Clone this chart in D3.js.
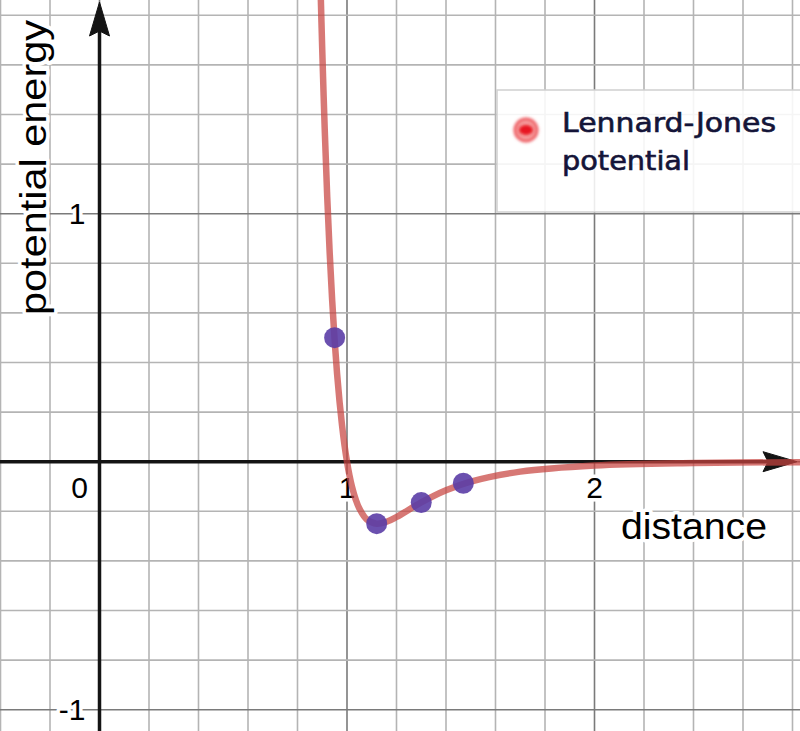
<!DOCTYPE html>
<html>
<head>
<meta charset="utf-8">
<script src="https://cdn.jsdelivr.net/npm/d3@7"></script>
<style>
  html, body { margin: 0; padding: 0; background: #fff; }
  svg { display: block; }
</style>
</head>
<body>
<svg id="chart" width="800" height="731"></svg>
<script>
// ---- data ----
const curveDistance = [0.89, 0.895, 0.90, 0.91, 0.92, 0.93, 0.94, 0.95, 0.96, 0.97, 0.98, 0.99, 1.00, 1.01, 1.02, 1.035, 1.05, 1.08, 1.12, 1.16, 1.20, 1.30, 1.40, 1.50, 1.70, 2.00, 2.40, 2.83];
const curveEnergy   = [2.04, 1.84, 1.66, 1.34, 1.07, 0.843, 0.652, 0.490, 0.354, 0.241, 0.146, 0.066, 0.0, -0.055, -0.100, -0.152, -0.189, -0.233, -0.250, -0.242, -0.223, -0.164, -0.115, -0.080, -0.040, -0.015, -0.005, -0.002];
const pointDistance = [0.95, 1.12, 1.30, 1.47];
const pointEnergy   = [0.50, -0.25, -0.165, -0.087];
const xTickValues = [0, 1, 2];
const xTickLabels = ["0", "1", "2"];
const yTickValues = [1, -1];
const yTickLabels = ["1", "-1"];
const xTitle = "distance";
const yTitle = "potential energy";
const legendLines = ["Lennard-Jones", "potential"];

// ---- layout ----
const W = 800, H = 731;
const x0px = 99.5, xUnit = 247.5;
const y0px = 461.7, yUnit = 248;
const x = d3.scaleLinear().domain([-x0px / xUnit, (W - x0px) / xUnit]).range([0, W]);
const y = d3.scaleLinear().domain([-(H - y0px) / yUnit, y0px / yUnit]).range([H, 0]);

const svg = d3.select("#chart");
const defs = svg.append("defs");
defs.append("clipPath").attr("id", "clip").append("rect").attr("x", 0).attr("y", 0).attr("width", W).attr("height", H);
const blur = defs.append("filter").attr("id", "blur").attr("x", "-50%").attr("y", "-50%").attr("width", "200%").attr("height", "200%");
blur.append("feGaussianBlur").attr("stdDeviation", 1.6);

// ---- grid ----
const step = 0.2;
const gx = d3.range(Math.ceil(x.domain()[0] / step), Math.floor(x.domain()[1] / step) + 1).map(k => +(k * step).toFixed(2));
const gy = d3.range(Math.ceil(y.domain()[0] / step), Math.floor(y.domain()[1] / step) + 1).map(k => +(k * step).toFixed(2));
const isMajor = v => Math.abs(v - Math.round(v)) < 1e-6;
const grid = svg.append("g");
grid.selectAll(".gx").data(gx).join("line")
  .attr("x1", d => x(d)).attr("x2", d => x(d)).attr("y1", 0).attr("y2", H)
  .attr("stroke", d => isMajor(d) ? "#7a7a7a" : "#b4b4b4").attr("stroke-width", 1.6);
grid.selectAll(".gy").data(gy).join("line")
  .attr("y1", d => y(d)).attr("y2", d => y(d)).attr("x1", 0).attr("x2", W)
  .attr("stroke", d => isMajor(d) ? "#7a7a7a" : "#b4b4b4").attr("stroke-width", 1.6);

// ---- tick labels (with white halo) ----
const haloText = sel => sel.attr("paint-order", "stroke").attr("stroke", "#fff").attr("stroke-width", 7).attr("stroke-linejoin", "round");
const labelFont = "'Liberation Sans', Arial, sans-serif";
svg.append("g").selectAll("text").data(xTickValues).join("text")
  .attr("x", (d, i) => d === 0 ? x(d) - 20 : x(d))
  .attr("y", y(0) + 36)
  .attr("text-anchor", "middle")
  .attr("font-family", labelFont).attr("font-size", 30).attr("fill", "#000")
  .text((d, i) => xTickLabels[i]).call(haloText);
svg.append("g").selectAll("text").data(yTickValues).join("text")
  .attr("x", x(0) - 14)
  .attr("y", d => y(d) + 10)
  .attr("text-anchor", "end")
  .attr("font-family", labelFont).attr("font-size", 30).attr("fill", "#000")
  .text((d, i) => yTickLabels[i]).call(haloText);

// ---- axis titles ----
svg.append("text")
  .attr("x", 621).attr("y", 539)
  .attr("font-family", labelFont).attr("font-size", 36).attr("fill", "#000")
  .attr("textLength", 146).attr("lengthAdjust", "spacingAndGlyphs")
  .text(xTitle).call(haloText);
svg.append("text")
  .attr("transform", "translate(46,315) rotate(-90)")
  .attr("font-family", labelFont).attr("font-size", 36).attr("fill", "#000")
  .attr("textLength", 295).attr("lengthAdjust", "spacingAndGlyphs")
  .text(yTitle).call(haloText);

// ---- axes with arrows ----
const axisColor = "#141414";
svg.append("line").attr("x1", x(0)).attr("x2", x(0)).attr("y1", H).attr("y2", 30)
  .attr("stroke", axisColor).attr("stroke-width", 3.5);
svg.append("line").attr("x1", 0).attr("x2", W - 30).attr("y1", y(0)).attr("y2", y(0))
  .attr("stroke", axisColor).attr("stroke-width", 3.5);
svg.append("path")
  .attr("d", `M${x(0)},2 L${x(0) + 10},36 L${x(0)},31 L${x(0) - 10},36 Z`)
  .attr("fill", axisColor).attr("stroke", axisColor).attr("stroke-width", 1).attr("stroke-linejoin", "round");
svg.append("path")
  .attr("d", `M${W - 3},${y(0)} L${W - 37},${y(0) - 10} L${W - 32},${y(0)} L${W - 37},${y(0) + 10} Z`)
  .attr("fill", axisColor).attr("stroke", axisColor).attr("stroke-width", 1).attr("stroke-linejoin", "round");

// ---- curve ----
const curveData = curveDistance.map((d, i) => [d, curveEnergy[i]]);
const line = d3.line().x(d => x(d[0])).y(d => y(d[1])).curve(d3.curveCatmullRom.alpha(0.5));
svg.append("path").datum(curveData)
  .attr("clip-path", "url(#clip)")
  .attr("d", line)
  .attr("fill", "none").attr("stroke", "#c74440").attr("stroke-opacity", 0.72)
  .attr("stroke-width", 6.5).attr("stroke-linecap", "round").attr("stroke-linejoin", "round");

// ---- points ----
svg.append("g").selectAll("circle").data(pointDistance).join("circle")
  .attr("cx", d => x(d)).attr("cy", (d, i) => y(pointEnergy[i])).attr("r", 10.5)
  .attr("fill", "#5b3da6").attr("fill-opacity", 0.9);

// ---- legend ----
const lg = svg.append("g");
lg.append("rect").attr("x", 497).attr("y", 90).attr("width", 310).attr("height", 122)
  .attr("fill", "#fff").attr("fill-opacity", 0.86).attr("stroke", "#d0d0d0").attr("stroke-width", 1.5);
lg.append("circle").attr("cx", 526).attr("cy", 130).attr("r", 11)
  .attr("fill", "#f5a0a0").attr("stroke", "#ee5a60").attr("stroke-width", 3).attr("filter", "url(#blur)");
lg.append("ellipse").attr("cx", 526).attr("cy", 130).attr("rx", 7).attr("ry", 5)
  .attr("fill", "#e81820").attr("filter", "url(#blur)");
lg.selectAll(".lt").data(legendLines).join("text")
  .attr("x", 562).attr("y", (d, i) => 132 + i * 38)
  .attr("font-family", "'DejaVu Sans', sans-serif").attr("font-size", 26).attr("fill", "#141438")
  .attr("stroke", "#141438").attr("stroke-width", 0.6)
  .attr("textLength", (d, i) => i === 0 ? 214 : 128).attr("lengthAdjust", "spacingAndGlyphs")
  .text(d => d);
</script>
</body>
</html>
